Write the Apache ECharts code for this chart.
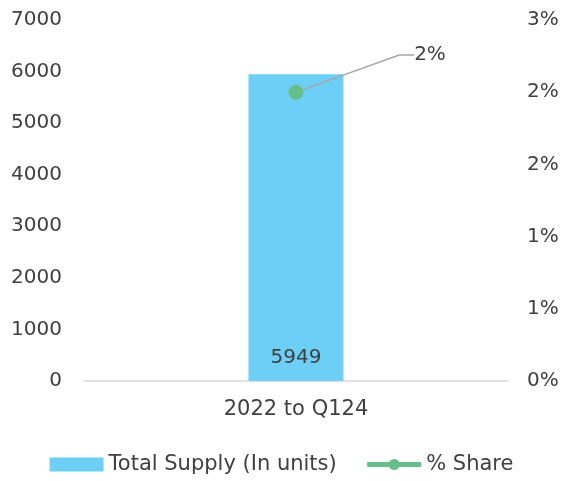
<!DOCTYPE html>
<html><head><meta charset="utf-8">
<script src="https://cdn.jsdelivr.net/npm/echarts@6/dist/echarts.min.js"></script>
<style>html,body{margin:0;padding:0;background:#fff}#c{width:563px;height:481px}</style>
</head><body><div id="c"></div>
<script>
var categories = ['2022 to Q124'];
var supplyValues = [5949];
var shareValues = [0.024];
var leftTicks = ['0','1000','2000','3000','4000','5000','6000','7000'];
var rightTicks = ['0%','1%','1%','2%','2%','3%'];

var FONT = 'DejaVu Sans';
var TXT = '#404040';
var chart = echarts.init(document.getElementById('c'));
chart.setOption({
  animation: false,
  textStyle: {fontFamily: FONT, color: TXT},
  grid: {left: 84, right: 55, top: 20, bottom: 100},
  legend: {
    bottom: 1, left: 'center', itemGap: 28, itemWidth: 54, itemHeight: 14,
    textStyle: {fontFamily: FONT, fontSize: 21, color: TXT},
    data: [
      {name: 'Total Supply (In units)', icon: 'rect'},
      {name: '% Share', lineStyle: {width: 5}}
    ]
  },
  xAxis: {
    type: 'category', data: categories,
    axisLine: {lineStyle: {color: '#D9D9D9', width: 1.5}},
    axisTick: {show: false},
    axisLabel: {fontFamily: FONT, fontSize: 21, color: TXT, margin: 18}
  },
  yAxis: [{
    type: 'value', min: 0, max: 7000, interval: 1000,
    splitLine: {show: false}, axisLine: {show: false}, axisTick: {show: false},
    axisLabel: {fontFamily: FONT, fontSize: 20, color: TXT, margin: 22,
      formatter: function (v) { return leftTicks[Math.round(v / 1000)]; }}
  }, {
    type: 'value', min: 0, max: 0.03, interval: 0.006,
    splitLine: {show: false}, axisLine: {show: false}, axisTick: {show: false},
    axisLabel: {fontFamily: FONT, fontSize: 20, color: TXT, margin: 19,
      formatter: function (v) { return rightTicks[Math.round(v / 0.006)]; }}
  }],
  series: [{
    name: 'Total Supply (In units)', type: 'bar', data: supplyValues,
    barWidth: '22.4%', itemStyle: {color: '#6DCFF6'},
    label: {show: true, position: 'insideBottom', distance: 13,
      fontFamily: FONT, fontSize: 20, color: TXT}
  }, {
    name: '% Share', type: 'line', yAxisIndex: 1, data: shareValues,
    symbol: 'circle', symbolSize: 15,
    itemStyle: {color: '#66BF8A'}, lineStyle: {color: '#66BF8A', width: 5},
    label: {show: true, position: 'right', fontFamily: FONT, fontSize: 20, color: TXT,
      formatter: function (p) { return Math.round(p.value * 100) + '%'; }},
    labelLayout: {x: 430, y: 55, align: 'center', verticalAlign: 'middle'},
    labelLine: {show: true, length2: 15, lineStyle: {color: '#A6A6A6', width: 1.5}}
  }]
});
</script></body></html>
